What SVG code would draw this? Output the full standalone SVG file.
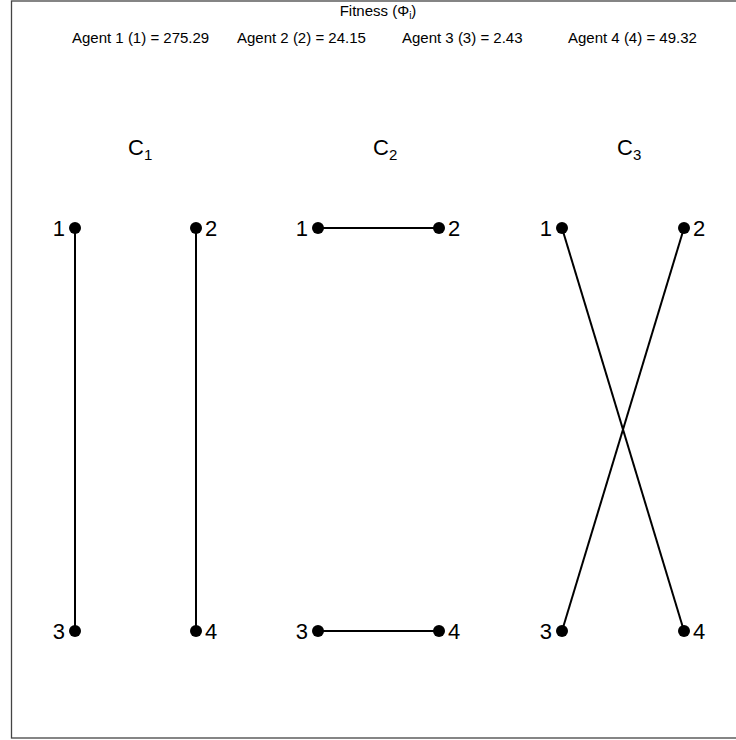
<svg xmlns="http://www.w3.org/2000/svg" width="736" height="740" viewBox="0 0 736 740">
<style>
.t{font-family:"Liberation Sans",Arial,sans-serif;fill:#000}
.s{font-size:15px}
.n{font-size:22px}
.e{stroke:#000;stroke-width:2;fill:none}
.d{fill:#000}
</style>
<rect width="736" height="740" fill="#fff"/>
<rect x="11.5" y="1" width="740" height="737" fill="none" stroke="#444" stroke-width="1.3"/>
<g id="title">
<text class="t s" x="378" y="16" text-anchor="middle">Fitness (Φ<tspan font-size="10" dy="3">i</tspan><tspan dy="-3">)</tspan></text>
<text class="t s" x="72" y="43">Agent 1 (1) = 275.29</text>
<text class="t s" x="237" y="43">Agent 2 (2) = 24.15</text>
<text class="t s" x="402" y="43">Agent 3 (3) = 2.43</text>
<text class="t s" x="568" y="43">Agent 4 (4) = 49.32</text>
</g>
<g id="labels">
<text class="t n" x="128" y="155">C<tspan font-size="15" dy="5">1</tspan></text>
<text class="t n" x="373" y="155">C<tspan font-size="15" dy="5">2</tspan></text>
<text class="t n" x="617" y="155">C<tspan font-size="15" dy="5">3</tspan></text>
</g>
<g id="connectors">
<line class="e" x1="75" y1="228" x2="75" y2="631"/>
<line class="e" x1="196" y1="228" x2="196" y2="631"/>
<line class="e" x1="318" y1="228" x2="439" y2="228"/>
<line class="e" x1="318" y1="631" x2="439" y2="631"/>
<line class="e" x1="562" y1="228" x2="684" y2="631"/>
<line class="e" x1="684" y1="228" x2="562" y2="631"/>
</g>
<g id="c1-n1"><circle class="d" cx="75" cy="228" r="6"/><text class="t n" x="65" y="236" text-anchor="end">1</text></g>
<g id="c1-n2"><circle class="d" cx="196" cy="228" r="6"/><text class="t n" x="205" y="236">2</text></g>
<g id="c1-n3"><circle class="d" cx="75" cy="631" r="6"/><text class="t n" x="65" y="639" text-anchor="end">3</text></g>
<g id="c1-n4"><circle class="d" cx="196" cy="631" r="6"/><text class="t n" x="205" y="639">4</text></g>
<g id="c2-n1"><circle class="d" cx="318" cy="228" r="6"/><text class="t n" x="308" y="236" text-anchor="end">1</text></g>
<g id="c2-n2"><circle class="d" cx="439" cy="228" r="6"/><text class="t n" x="448" y="236">2</text></g>
<g id="c2-n3"><circle class="d" cx="318" cy="631" r="6"/><text class="t n" x="308" y="639" text-anchor="end">3</text></g>
<g id="c2-n4"><circle class="d" cx="439" cy="631" r="6"/><text class="t n" x="448" y="639">4</text></g>
<g id="c3-n1"><circle class="d" cx="562" cy="228" r="6"/><text class="t n" x="552" y="236" text-anchor="end">1</text></g>
<g id="c3-n2"><circle class="d" cx="684" cy="228" r="6"/><text class="t n" x="693" y="236">2</text></g>
<g id="c3-n3"><circle class="d" cx="562" cy="631" r="6"/><text class="t n" x="552" y="639" text-anchor="end">3</text></g>
<g id="c3-n4"><circle class="d" cx="684" cy="631" r="6"/><text class="t n" x="693" y="639">4</text></g>
</svg>
